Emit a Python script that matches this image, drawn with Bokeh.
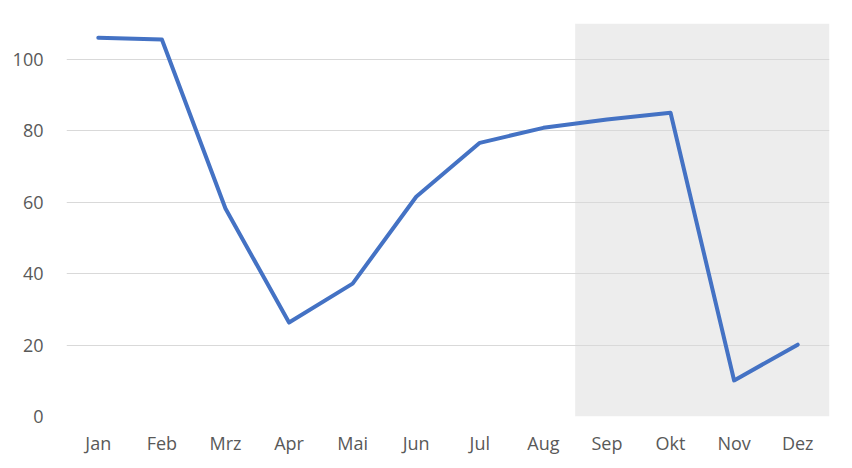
from bokeh.plotting import figure
from bokeh.models import FactorRange, Range1d, BoxAnnotation, FixedTicker
from bokeh.embed import file_html
from bokeh.resources import INLINE

months = ["Jan", "Feb", "Mrz", "Apr", "Mai", "Jun", "Jul", "Aug", "Sep", "Okt", "Nov", "Dez"]
values = [106.0, 105.5, 58.2, 26.3, 37.2, 61.5, 76.6, 80.8, 83.1, 85.0, 10.1, 20.1]
y_ticks = [0, 20, 40, 60, 80, 100]
y_max = 110
shade_from = "Sep"

p = figure(x_range=FactorRange(*months, range_padding=0), y_range=Range1d(0, y_max),
           width=852, height=468, frame_width=763, frame_height=393,
           output_backend="svg", toolbar_location=None,
           min_border_left=66, min_border_top=23, min_border_right=23, min_border_bottom=52)
p.outline_line_color = None
p.background_fill_color = "white"
p.border_fill_color = "white"

p.add_layout(BoxAnnotation(left=months.index(shade_from), fill_color="#EDEDED",
                           fill_alpha=1, line_color=None, level="image"))

p.line(months, values, line_color="#4472C4", line_width=4, line_join="round", line_cap="round")

p.xgrid.grid_line_color = None
p.ygrid.grid_line_color = "#D9D9D9"
p.ygrid.grid_line_width = 1
p.yaxis.ticker = FixedTicker(ticks=y_ticks)

for ax in (p.xaxis, p.yaxis):
    ax.axis_line_color = None
    ax.major_tick_line_color = None
    ax.minor_tick_line_color = None
    ax.major_label_text_color = "#595959"
    ax.major_label_text_font = "Open Sans"
    ax.major_label_text_font_size = "18px"
p.yaxis.major_label_standoff = 17
p.xaxis.major_label_standoff = 8

open("out.html", "w").write(file_html(p, INLINE))
